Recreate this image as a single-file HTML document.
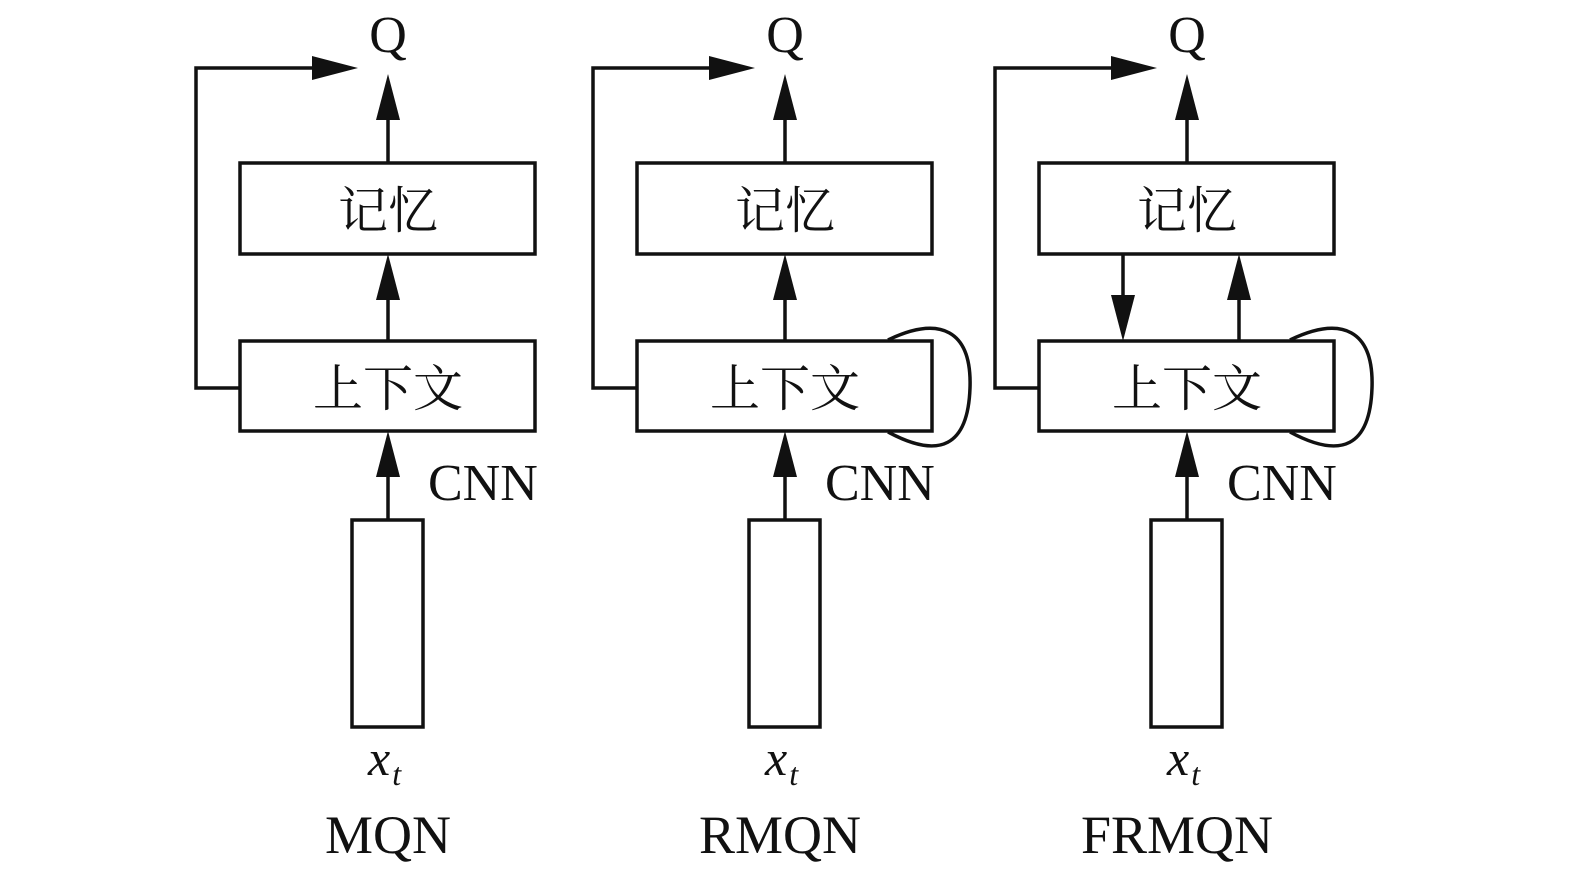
<!DOCTYPE html>
<html><head><meta charset="utf-8"><style>
html,body{margin:0;padding:0;background:#fff;}
svg{display:block;}
text{font-family:"Liberation Serif","Noto Serif CJK SC",serif;fill:#111;}
</style></head><body>
<svg width="1575" height="880" viewBox="0 0 1575 880" xmlns="http://www.w3.org/2000/svg">
<defs>
<g id="common" stroke="#111" stroke-width="3.5" fill="none">
  <rect x="240" y="163" width="295" height="91"/>
  <rect x="240" y="341" width="295" height="90"/>
  <rect x="352" y="520" width="71" height="207"/>
  <line x1="388" y1="520" x2="388" y2="472"/>
  <line x1="388" y1="163" x2="388" y2="115"/>
  <polyline points="240,388 196,388 196,68 318,68"/>
</g>
<g id="heads" fill="#111">
  <polygon points="388,431 376,477 400,477"/>
  <polygon points="388,74 376,120 400,120"/>
  <polygon points="358,68 312,56 312,80"/>
</g>
<g id="labels">
  <text x="388" y="52" font-size="52" text-anchor="middle">Q</text>
  <text x="388" y="228" font-size="50" text-anchor="middle">记忆</text>
  <text x="388" y="406" font-size="50" text-anchor="middle">上下文</text>
  <text x="428" y="500" font-size="52">CNN</text>
  <text x="368" y="775" font-size="50" font-style="italic">x<tspan font-size="32" dy="10" dx="2">t</tspan></text>
</g>
<path id="loop" d="M888,340 C940,315 972,330 970,388 C968,446 940,460 888,432" stroke="#111" stroke-width="3.5" fill="none"/>
</defs>

<!-- Panel 1 MQN -->
<use href="#common"/><use href="#heads"/><use href="#labels"/>
<line x1="388" y1="341" x2="388" y2="295" stroke="#111" stroke-width="3.5"/>
<polygon points="388,254 376,300 400,300" fill="#111"/>
<text x="388" y="853" font-size="54" text-anchor="middle">MQN</text>

<!-- Panel 2 RMQN -->
<g transform="translate(397,0)">
<use href="#common"/><use href="#heads"/><use href="#labels"/>
<line x1="388" y1="341" x2="388" y2="295" stroke="#111" stroke-width="3.5"/>
<polygon points="388,254 376,300 400,300" fill="#111"/>
<text x="383" y="853" font-size="54" text-anchor="middle">RMQN</text>
</g>
<use href="#loop"/>

<!-- Panel 3 FRMQN -->
<g transform="translate(799,0)">
<use href="#common"/><use href="#heads"/><use href="#labels"/>
<line x1="324" y1="254" x2="324" y2="300" stroke="#111" stroke-width="3.5"/>
<polygon points="324,341 312,295 336,295" fill="#111"/>
<line x1="440" y1="341" x2="440" y2="295" stroke="#111" stroke-width="3.5"/>
<polygon points="440,254 428,300 452,300" fill="#111"/>
<text x="378" y="853" font-size="54" text-anchor="middle">FRMQN</text>
</g>
<g transform="translate(402,0)"><use href="#loop"/></g>
</svg>
</body></html>
